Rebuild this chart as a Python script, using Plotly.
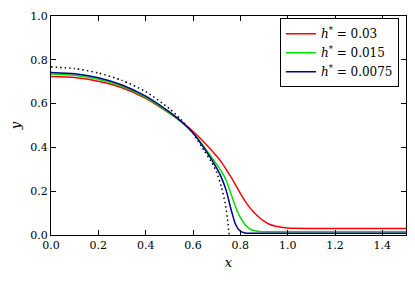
import plotly.graph_objects as go

# shared x grid for the three solution curves
x_sol = [0, 0.1, 0.2, 0.3, 0.4, 0.5, 0.55, 0.6, 0.65, 0.7, 0.72, 0.74, 0.76, 0.78,
         0.8, 0.82, 0.84, 0.86, 0.88, 0.9, 0.92, 0.95, 1.0, 1.1, 1.5]

y_h003 = [0.724, 0.719, 0.702, 0.672, 0.624, 0.556, 0.518, 0.474, 0.42, 0.36, 0.333, 0.30,
          0.265, 0.228, 0.19, 0.155, 0.125, 0.10, 0.08, 0.063, 0.05, 0.04, 0.032, 0.03, 0.03]
y_h0015 = [0.735, 0.729, 0.711, 0.679, 0.629, 0.558, 0.517, 0.468, 0.398, 0.322, 0.29, 0.25,
           0.19, 0.128, 0.08, 0.048, 0.028, 0.019, 0.016, 0.015, 0.015, 0.015, 0.015, 0.015, 0.015]
y_h00075 = [0.742, 0.736, 0.718, 0.685, 0.634, 0.562, 0.519, 0.466, 0.392, 0.305, 0.262, 0.205,
            0.12, 0.048, 0.017, 0.009, 0.0077, 0.0075, 0.0075, 0.0075, 0.0075, 0.0075, 0.0075,
            0.0075, 0.0075]

x_ref = [0, 0.1, 0.2, 0.3, 0.4, 0.5, 0.55, 0.6, 0.65, 0.68, 0.7, 0.72, 0.735, 0.745, 0.753]
y_ref = [0.767, 0.760, 0.740, 0.706, 0.655, 0.577, 0.527, 0.464, 0.38, 0.33, 0.285, 0.22,
         0.15, 0.08, 0.0]

labels = ["<i>h</i><sup>*</sup> = 0.03", "<i>h</i><sup>*</sup> = 0.015",
          "<i>h</i><sup>*</sup> = 0.0075"]
colors = ["#ff0000", "#00dd00", "#00008b"]

FONT = "DejaVu Serif"

fig = go.Figure()
fig.add_trace(go.Scatter(x=x_ref, y=y_ref, mode="lines", showlegend=False,
                         line=dict(color="black", width=1.5, dash="1.5px,3px",
                                   shape="spline", smoothing=0.6)))
for ys, lab, c in zip([y_h003, y_h0015, y_h00075], labels, colors):
    fig.add_trace(go.Scatter(x=x_sol, y=ys, mode="lines", name=lab,
                             line=dict(color=c, width=1.5, shape="spline", smoothing=0.6)))

axis_common = dict(showgrid=False, zeroline=False, showline=True, linecolor="black",
                   linewidth=1.2, mirror="allticks", ticks="inside", ticklen=5,
                   tickwidth=1, tickcolor="black", automargin=False,
                   tickfont=dict(family=FONT, size=11, color="black"))

fig.update_xaxes(range=[0, 1.5], tickvals=[0, 0.2, 0.4, 0.6, 0.8, 1.0, 1.2, 1.4],
                 ticktext=["0.0", "0.2", "0.4", "0.6", "0.8", "1.0", "1.2", "1.4"],
                 title=dict(text="<i>x</i>", font=dict(family=FONT, size=13, color="black"),
                            standoff=6),
                 **axis_common)
fig.update_yaxes(range=[0, 1.0], tickvals=[0, 0.2, 0.4, 0.6, 0.8, 1.0],
                 ticktext=["0.0", "0.2", "0.4", "0.6", "0.8", "1.0"],
                 title=dict(text="<i>y</i>", font=dict(family=FONT, size=13, color="black"),
                            standoff=6),
                 **axis_common)

fig.update_layout(
    width=415, height=283,
    margin=dict(l=43, r=17, t=8, b=56),
    paper_bgcolor="white", plot_bgcolor="white",
    font=dict(family=FONT, size=12, color="black"),
    legend=dict(x=0.98, y=0.99, xanchor="right", yanchor="top",
                bgcolor="white", bordercolor="black", borderwidth=1,
                font=dict(family=FONT, size=12, color="black"),
                tracegroupgap=0, itemwidth=30),
)

fig.write_html("out.html")
